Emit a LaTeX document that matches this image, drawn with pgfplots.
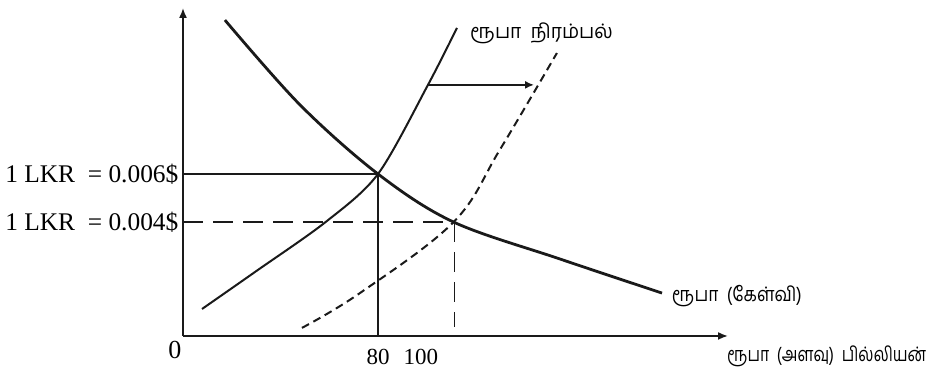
\documentclass[border=0pt]{standalone}
\usepackage{fontspec}
\setmainfont{Liberation Serif}
\newfontfamily\tamil[Script=Tamil]{Hind Madurai}
\usepackage{pgfplots}
\pgfplotsset{compat=1.18}
\usetikzlibrary{arrows.meta}
\definecolor{ink}{HTML}{1A1A1A}
\begin{document}
\begin{tikzpicture}
\begin{axis}[
  x=1.21875pt, y=13.5pt,
  xmin=0, xmax=223.6, ymin=0, ymax=12.15,
  axis lines=left,
  axis line style={ink, line width=0.9pt, -{Latex[length=5pt,width=4pt]}},
  xtick=\empty, ytick=\empty,
  clip=false,
  every node/.style={text=ink, inner sep=0pt},
]
% corners of the frame that gives the picture its size
\coordinate (BL) at (axis cs:-75.08,-1.556);
\coordinate (TR) at (axis cs:306.46,12.444);

% demand (ruba keLvi)
\addplot[ink, line width=1.4pt, smooth, tension=0.55] coordinates {
 (17.2,11.70) (48.0,8.56) (80.0,6.00) (111.0,4.22) (154.7,2.85) (196.5,1.59)};
% supply (solid)
\addplot[ink, line width=1.0pt, smooth, tension=0.5] coordinates {
 (7.8,1.00) (30.0,2.40) (58.5,4.22) (80.0,6.00) (100.5,9.30) (112.4,11.41)};
% shifted supply (dashed)
\addplot[ink, line width=1.0pt, smooth, tension=0.6, dash pattern=on 4pt off 2.5pt] coordinates {
 (48.8,0.30) (72.6,1.59) (111.0,4.22) (130.0,6.90) (153.4,10.48)};

% guide lines
\addplot[ink, line width=0.9pt] coordinates {(0,6) (80,6)};
\addplot[ink, line width=0.9pt] coordinates {(80,0) (80,6)};
\addplot[ink, line width=0.9pt, dash pattern=on 10pt off 5pt] coordinates {(0,4.22) (111.0,4.22)};
\addplot[ink, line width=0.9pt, dash pattern=on 10pt off 5pt] coordinates {(111.4,4.22) (111.4,0.33)};

% shift arrow
\draw[ink, line width=0.8pt, -{Latex[length=4.5pt,width=4pt]}] (axis cs:100.5,9.30) -- (axis cs:144.0,9.30);

% labels
\node[anchor=east, font=\fontsize{12.7}{15}\selectfont] at (axis cs:1.0,6) {1 LKR\ \ = 0.006\$};
\node[anchor=east, font=\fontsize{12.7}{15}\selectfont] at (axis cs:1.0,4.22) {1 LKR\ \ = 0.004\$};
\node[font=\fontsize{13}{15}\selectfont] at (axis cs:-3.3,-0.52) {0};
\node[font=\fontsize{11.5}{14}\selectfont] at (axis cs:80,-0.78) {80};
\node[font=\fontsize{11.5}{14}\selectfont] at (axis cs:97.6,-0.78) {100};
\node[anchor=west, font=\tamil\fontsize{10}{12}\selectfont] at (axis cs:114.9,11.22) {\scalebox{0.96}[1]{ரூபா\ \ நிரம்பல்}};
\node[anchor=west, font=\tamil\fontsize{10}{12}\selectfont] at (axis cs:197.7,1.48) {\scalebox{0.87}[1]{ரூபா\ \ (கேள்வி)}};
\node[anchor=west, font=\tamil\fontsize{10}{12}\selectfont] at (axis cs:220.3,-0.74) {\scalebox{0.79}[1]{ரூபா\ \ (அளவு)\ \ பில்லியன்}};
\end{axis}
\pgfresetboundingbox
\path[use as bounding box] (BL) rectangle (TR);
\end{tikzpicture}
\end{document}
